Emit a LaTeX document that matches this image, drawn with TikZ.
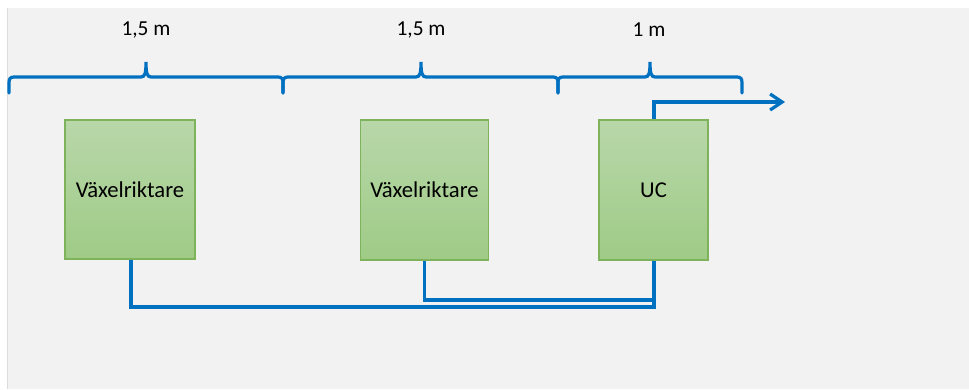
\documentclass[tikz,border=0pt]{standalone}
\usepackage{fontspec}
\setmainfont{Carlito}
\usetikzlibrary{arrows.meta}
\definecolor{bg}{HTML}{F2F2F2}
\definecolor{bgedge}{HTML}{DCDCDC}
\definecolor{wire}{HTML}{0070C0}
\definecolor{boxtop}{HTML}{B9D7AA}
\definecolor{boxbot}{HTML}{9ECB86}
\definecolor{boxedge}{HTML}{7EB35C}
\tikzset{
  unit/.style={draw=boxedge, line width=1.2pt, top color=boxtop, bottom color=boxbot,
    inner sep=0pt, font=\fontsize{17pt}{20pt}\selectfont},
  wireline/.style={draw=wire, line width=2.4pt},
  dimlabel/.style={font=\fontsize{16pt}{19pt}\selectfont},
}
% one curly dimension brace from x0 to x1 with its tip at xm
\newcommand{\dimbrace}[3]{%
  \draw[wireline, line cap=round]
    (#1,93) -- (#1,83) .. controls (#1,79) and (#1+1,77) .. (#1+5,77)
    -- (#2-5,77) .. controls (#2-1,77) and (#2,73) .. (#2,62)
    .. controls (#2,73) and (#2+1,77) .. (#2+5,77)
    -- (#3-5,77) .. controls (#3-1,77) and (#3,79) .. (#3,83) -- (#3,93);}
\begin{document}
\begin{tikzpicture}[x=0.75pt, y=-0.75pt]
  \useasboundingbox (0,0) rectangle (969,389);
  \fill[white] (0,0) rectangle (969,389);
  \fill[bg] (7,8) rectangle (969,389);
  \draw[bgedge, line width=0.8pt] (7.3,8) -- (7.3,389);

  % dimension braces
  \dimbrace{9}{146}{283}
  \dimbrace{283}{421}{558}
  \dimbrace{558}{650}{742}
  \node[dimlabel] (d1) at (146,30) {1,5 m};
  \node[dimlabel] (d2) at (421,30) {1,5 m};
  \node[dimlabel] (d3) at (649,30) {1 m};

  % units
  \node[unit, minimum width=130*0.75pt, minimum height=139*0.75pt] (v1) at (130,189.5) {Växelriktare};
  \node[unit, minimum width=128*0.75pt, minimum height=140*0.75pt] (v2) at (424.5,190) {Växelriktare};
  \node[unit, minimum width=109*0.75pt, minimum height=140*0.75pt] (uc) at (653.5,190) {UC};

  % wiring
  \coordinate (jlow) at (654,307);
  \coordinate (jhigh) at (654,300);
  \coordinate (bend) at (654,102);
  \coordinate (out) at (785,102);
  \draw[wireline] ([xshift=0.75pt]v1.south) |- (jlow) -- (uc.south -| jlow);
  \draw[wireline] (v2.south) |- (jhigh);
  \draw[wireline, -{Straight Barb[length=9pt, width=12pt, line width=2.4pt]}] (uc.north -| bend) -- (bend) -- (out);
\end{tikzpicture}
\end{document}
